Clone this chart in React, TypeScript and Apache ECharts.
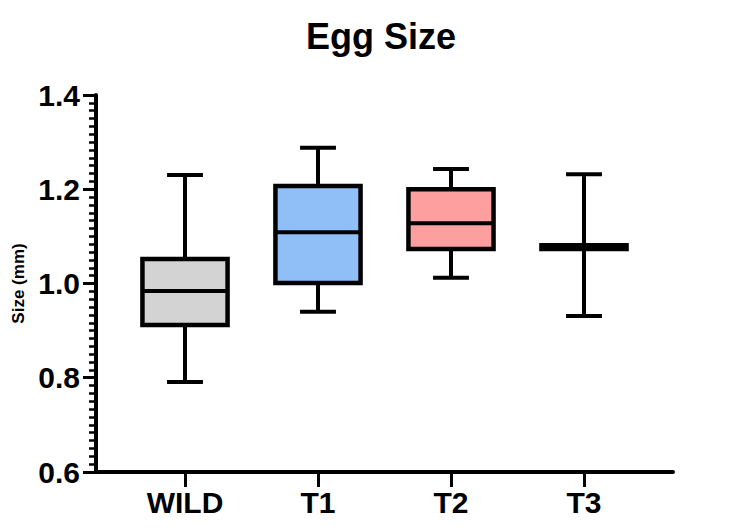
import React, { useEffect, useRef } from "react";
import * as echarts from "echarts";

const title = "Egg Size";
const yAxisName = "Size (mm)";
const categories = ["WILD", "T1", "T2", "T3"];
// [low whisker, Q1, median, Q3, high whisker]
const wildStats = [0.791, 0.912, 0.984, 1.052, 1.23];
const t1Stats = [0.94, 1.001, 1.109, 1.207, 1.288];
const t2Stats = [1.012, 1.073, 1.128, 1.2, 1.243];
const t3Stats = [0.931, 1.073, 1.077, 1.081, 1.232];
const boxColors = ["#d3d3d3", "#90bff8", "#fd9f9f", "#ffffff"];
const yMin = 0.6;
const yMax = 1.4;
const yStep = 0.2;

export default function App() {
  const ref = useRef<HTMLDivElement>(null);
  useEffect(() => {
    if (!ref.current) return;
    document.body.style.margin = "0";
    const chart = echarts.init(ref.current, undefined, { renderer: "svg" });
    const stats = [wildStats, t1Stats, t2Stats, t3Stats];
    const data = stats.map((s, i) => [i, ...s]);
    const font = "'Liberation Sans', Arial, sans-serif";
    const gTop = 95;
    const gHeight = 377;
    chart.setOption({
      animation: false,
      backgroundColor: "#ffffff",
      title: {
        text: title,
        left: 376,
        top: 13,
        textAlign: "center",
        textStyle: { fontFamily: font, fontWeight: "bold", fontSize: 36, color: "#000" },
      },
      grid: [
        { left: 96, top: gTop, width: 577, height: gHeight },
        { left: 118.5, top: gTop, width: 532, height: gHeight },
      ],
      xAxis: [
        {
          gridIndex: 0,
          type: "value",
          min: 0,
          max: 1,
          axisLine: { show: true, lineStyle: { color: "#000", width: 4 } },
          axisTick: { show: false },
          axisLabel: { show: false },
          splitLine: { show: false },
        },
        {
          gridIndex: 1,
          type: "category",
          data: categories,
          axisLine: { show: false },
          axisTick: { show: true, alignWithLabel: true, length: 15, lineStyle: { color: "#000", width: 3 } },
          axisLabel: { margin: 15, fontFamily: font, fontWeight: "bold", fontSize: 30, color: "#000" },
          splitLine: { show: false },
        },
      ],
      yAxis: [
        {
          gridIndex: 0,
          type: "value",
          min: yMin,
          max: yMax,
          interval: yStep,
          name: yAxisName,
          nameLocation: "middle",
          nameGap: 61,
          nameTextStyle: { fontFamily: font, fontSize: 17, fontWeight: "bold", color: "#000" },
          axisLine: { show: true, lineStyle: { color: "#000", width: 4 } },
          axisTick: { show: true, length: 13, lineStyle: { color: "#000", width: 3 } },
          minorTick: { show: true, splitNumber: 12, length: 7, lineStyle: { color: "#000", width: 2.5 } },
          axisLabel: {
            margin: 16,
            fontFamily: font,
            fontWeight: "bold",
            fontSize: 30,
            color: "#000",
            formatter: (v: number) => v.toFixed(1),
          },
          splitLine: { show: false },
        },
        {
          gridIndex: 1,
          type: "value",
          min: yMin,
          max: yMax,
          show: false,
          splitLine: { show: false },
        },
      ],
      series: [
        {
          type: "custom",
          xAxisIndex: 1,
          yAxisIndex: 1,
          data,
          renderItem: (params: any, api: any) => {
            const idx = api.value(0);
            const low = api.coord([idx, api.value(1)]);
            const q1 = api.coord([idx, api.value(2)]);
            const med = api.coord([idx, api.value(3)]);
            const q3 = api.coord([idx, api.value(4)]);
            const high = api.coord([idx, api.value(5)]);
            const band = api.size([1, 0])[0];
            const bw = band * 0.64;
            const cw = band * 0.27;
            const x = low[0];
            const stroke = { stroke: "#000", lineWidth: 4, fill: "none" };
            return {
              type: "group",
              children: [
                { type: "line", shape: { x1: x, y1: high[1], x2: x, y2: q3[1] }, style: stroke },
                { type: "line", shape: { x1: x, y1: q1[1], x2: x, y2: low[1] }, style: stroke },
                { type: "line", shape: { x1: x - cw / 2, y1: high[1], x2: x + cw / 2, y2: high[1] }, style: stroke },
                { type: "line", shape: { x1: x - cw / 2, y1: low[1], x2: x + cw / 2, y2: low[1] }, style: stroke },
                {
                  type: "rect",
                  shape: { x: x - bw / 2, y: q3[1], width: bw, height: q1[1] - q3[1] },
                  style: { fill: boxColors[params.dataIndex], stroke: "#000", lineWidth: 4.5 },
                },
                { type: "line", shape: { x1: x - bw / 2, y1: med[1], x2: x + bw / 2, y2: med[1] }, style: stroke },
              ],
            };
          },
        },
      ],
    });
    return () => chart.dispose();
  }, []);
  return <div ref={ref} style={{ width: 729, height: 532 }} />;
}
